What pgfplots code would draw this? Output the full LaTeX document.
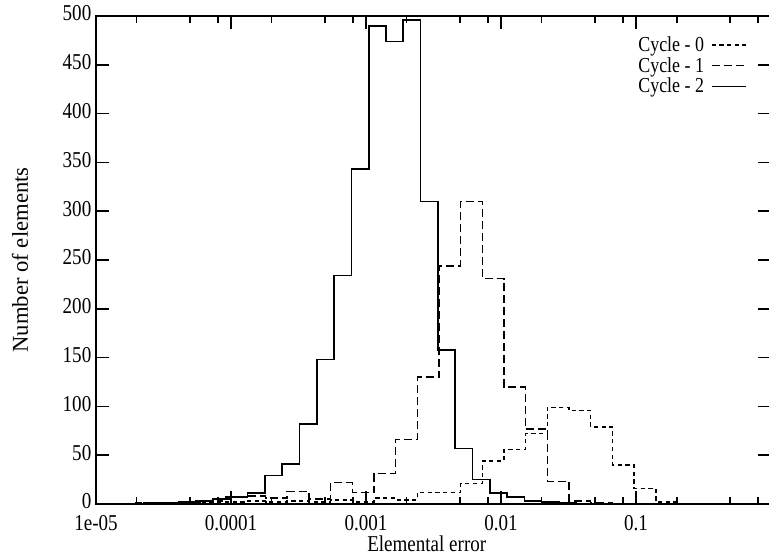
\documentclass[border=0pt]{standalone}
\usepackage{fontspec}
\setmainfont{Liberation Serif}[FakeStretch=0.84]
\newfontfamily\ylfont{Liberation Serif}
\usepackage{pgfplots}
\pgfplotsset{compat=1.18}
\usetikzlibrary{calc}
\begin{document}
\begin{tikzpicture}
\begin{axis}[
  scale only axis,
  width=506.25pt, height=366pt,
  xmode=log, xmin=1e-5, xmax=1, ymin=0, ymax=500,
  xtick={1e-5,1e-4,1e-3,1e-2,1e-1},
  xticklabels={1e-05,0.0001,0.001,0.01,0.1},
  minor xtick={2e-5,5e-5,8e-5,2e-4,5e-4,8e-4,2e-3,5e-3,8e-3,2e-2,5e-2,8e-2,2e-1,5e-1,8e-1},
  ytick={0,50,...,500},
  tick align=inside,
  major tick length=9.75pt, minor tick length=5.25pt,
  every tick/.style={black, line width=1.3pt},
  axis line style={line width=1.8pt},
  /pgf/number format/assume math mode=true,
  tick label style={font=\fontsize{17}{19}\selectfont},
  xticklabel style={yshift=-5pt, text depth=0pt},
  yticklabel style={yshift=2pt, text depth=0pt},
  xlabel={Elemental error},
  ylabel={\ylfont Number of elements},
  xlabel style={font=\fontsize{17}{19}\selectfont, at={(axis description cs:0.49,-0.082)}, anchor=center},
  ylabel style={font=\fontsize{17}{19}\selectfont, at={(axis description cs:-0.1126,0.5)}, anchor=center, rotate=0},
  legend plot pos=right,
  legend cell align=right,
  legend image code/.code={\draw[#1] (0pt,0pt) -- (26pt,0pt);},
  legend style={at={(axis description cs:0.9644,0.958)}, anchor=north east, draw=none, fill=none,
    inner sep=0pt, outer sep=0pt, row sep=3pt, column sep=5pt,
    font=\fontsize{16}{17}\selectfont, nodes={inner sep=0pt}},
]
% Cycle - 0 (dotted)
\addplot[const plot, black, line width=1.1pt, dash pattern=on 3.2pt off 2.6pt] coordinates {
(2.837e-5,0) (2.837e-5,1) (4.107e-5,1) (5.944e-5,2) (8.603e-5,2) (1.245e-4,3) (1.802e-4,2)
(2.609e-4,3) (3.776e-4,2) (5.465e-4,4) (7.910e-4,2) (1.145e-3,6) (1.657e-3,4)
(2.399e-3,12) (3.472e-3,12) (5.025e-3,21) (7.274e-3,44) (1.0529e-2,56) (1.524e-2,72)
(2.206e-2,99) (3.193e-2,96) (4.621e-2,79) (6.688e-2,40) (9.681e-2,16) (0.14013,2) (0.2028,0)
};
\addlegendentry{Cycle - 0}
% Cycle - 1 (dashed)
\addplot[const plot, black, line width=1.1pt, dash pattern=on 6pt off 3pt] coordinates {
(1.960e-5,0) (1.960e-5,1) (2.837e-5,1) (4.107e-5,2) (5.944e-5,3) (8.603e-5,7) (1.245e-4,8)
(1.802e-4,6) (2.609e-4,13) (3.776e-4,5) (5.465e-4,22) (7.910e-4,12) (1.145e-3,31)
(1.657e-3,66) (2.399e-3,130) (3.472e-3,244) (5.025e-3,310) (7.274e-3,231) (1.0529e-2,120)
(1.524e-2,77) (2.206e-2,23) (3.193e-2,3) (4.621e-2,1) (6.688e-2,0)
};
\addlegendentry{Cycle - 1}
% Cycle - 2 (solid)
\addplot[const plot, black, line width=1.2pt] coordinates {
(2.266e-5,0) (2.266e-5,1) (3.043e-5,1) (4.087e-5,2) (5.489e-5,3) (7.371e-5,5) (9.900e-5,7)
(1.3295e-4,11) (1.7855e-4,29) (2.398e-4,41) (3.2205e-4,82) (4.325e-4,148) (5.8085e-4,234)
(7.801e-4,343) (1.0477e-3,490) (1.407e-3,474) (1.8896e-3,496) (2.5377e-3,310) (3.408e-3,158)
(4.577e-3,57) (6.147e-3,25) (8.255e-3,11) (1.1087e-2,7) (1.489e-2,3) (1.9996e-2,2)
(2.685e-2,1) (3.607e-2,0)
};
\addlegendentry{Cycle - 2}
\coordinate (bl) at (rel axis cs:0,0);
\coordinate (tr) at (rel axis cs:1,1);
\end{axis}
\pgfresetboundingbox
\path ($(bl)+(-72pt,-38.25pt)$) rectangle ($(tr)+(-1.5pt,12pt)$);
\end{tikzpicture}
\end{document}
